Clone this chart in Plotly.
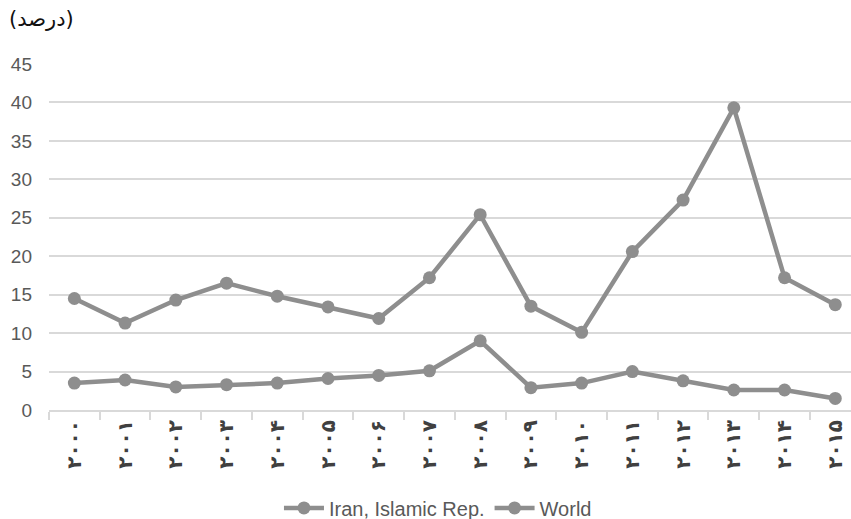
import plotly.graph_objects as go

# Years shown with Persian digits on the category axis
years = ["۲۰۰۰", "۲۰۰۱", "۲۰۰۲", "۲۰۰۳", "۲۰۰۴", "۲۰۰۵", "۲۰۰۶", "۲۰۰۷",
         "۲۰۰۸", "۲۰۰۹", "۲۰۱۰", "۲۰۱۱", "۲۰۱۲", "۲۰۱۳", "۲۰۱۴", "۲۰۱۵"]

# Inflation rate (percent)
iran = [14.5, 11.3, 14.3, 16.5, 14.8, 13.4, 11.9, 17.2,
        25.4, 13.5, 10.1, 20.6, 27.3, 39.3, 17.2, 13.7]
world = [3.5, 3.9, 3.0, 3.3, 3.5, 4.1, 4.5, 5.1,
         9.0, 2.9, 3.5, 5.0, 3.8, 2.6, 2.6, 1.5]

y_ticks = [0, 5, 10, 15, 20, 25, 30, 35, 40, 45]

line_color = "#8e8e8e"
grid_color = "#d9d9d9"
text_color = "#595959"
font_family = "Liberation Sans, Arial, sans-serif"

fig = go.Figure()
fig.add_trace(go.Scatter(
    x=years, y=iran, name="Iran, Islamic Rep.", mode="lines+markers",
    line=dict(color=line_color, width=4.5),
    marker=dict(color=line_color, size=13),
    cliponaxis=False,
))
fig.add_trace(go.Scatter(
    x=years, y=world, name="World", mode="lines+markers",
    line=dict(color=line_color, width=4.5),
    marker=dict(color=line_color, size=13),
    cliponaxis=False,
))

fig.update_layout(
    width=851, height=519,
    margin=dict(l=49, r=0, t=64, b=109, autoexpand=False),
    paper_bgcolor="white", plot_bgcolor="white",
    font=dict(family=font_family, color=text_color, size=17),
    showlegend=True,
    legend=dict(
        orientation="h", x=0.485, xanchor="center", y=-0.283, yanchor="middle",
        font=dict(size=20, color=text_color), itemwidth=40,
        tracegroupgap=0,
    ),
    annotations=[dict(
        text="(درصد)", xref="paper", yref="paper",
        x=-0.052, y=1.13, xanchor="left", yanchor="middle",
        showarrow=False, font=dict(size=21, color="#111111",
                                   family="DejaVu Sans, sans-serif"),
    )],
)

fig.update_xaxes(
    type="category", range=[-0.5, 15.31], automargin=False,
    showgrid=False, showline=True, linecolor=grid_color, linewidth=2,
    ticks="outside", tickson="boundaries", ticklen=8, tickcolor=grid_color,
    tickwidth=2, tickangle=-90,
    tickfont=dict(size=20, color="#404040", family="DejaVu Sans, sans-serif",
                  weight="bold"),
    zeroline=False,
)
fig.update_yaxes(
    range=[0, 45], tickvals=y_ticks, automargin=False,
    showgrid=True, gridcolor=grid_color, gridwidth=2,
    zeroline=False, showline=False, ticks="",
    ticklabelstandoff=16,
    tickfont=dict(size=19, color=text_color),
)

fig.write_html("out.html")
